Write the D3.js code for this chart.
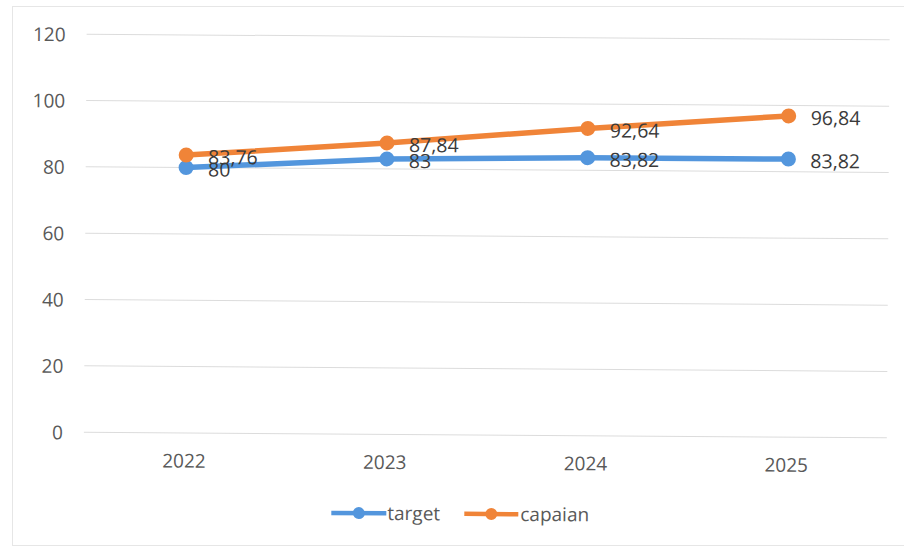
<!DOCTYPE html>
<html>
<head>
<meta charset="utf-8">
<script src="https://cdn.jsdelivr.net/npm/d3@7"></script>
<style>
  body { margin: 0; background: #ffffff; }
  svg { display: block; }
  text { font-family: "Open Sans", "Noto Sans", sans-serif; }
</style>
</head>
<body>
<div id="chart"></div>
<script>
// data
var years = ["2022", "2023", "2024", "2025"];
var targetValues = [80, 83, 83.82, 83.82];
var capaianValues = [83.76, 87.84, 92.64, 96.84];
var yTicks = [0, 20, 40, 60, 80, 100, 120];
var seriesNames = ["target", "capaian"];

var colour_target = "#5396dd",
    colour_capaian = "#f08438",
    colour_grid = "#dcdcdc",
    colour_axisText = "#595959",
    colour_label = "#3a3a3a";

var width = 904, height = 548;

var svg = d3.select("#chart").append("svg")
  .attr("width", width)
  .attr("height", height);

// frame of the chart area
svg.append("rect")
  .attr("x", 12.5).attr("y", 6.5)
  .attr("width", 900).attr("height", 539)
  .attr("fill", "#ffffff")
  .attr("stroke", "#e6e6e6");

// the scan is a little tilted
var g = svg.append("g").attr("transform", "rotate(0.4, 486, 270)");

var x = d3.scaleBand().domain(years).range([85, 888]);
var y = d3.scaleLinear().domain([0, 120]).range([435, 37]);

function xc(d) { return x(d) + x.bandwidth() / 2; }
function fmt(v) { return String(v).replace(".", ","); }

// gridlines
g.append("g").selectAll("line")
  .data(yTicks)
  .enter().append("line")
    .attr("x1", 85).attr("x2", 888)
    .attr("y1", function(d) { return y(d); })
    .attr("y2", function(d) { return y(d); })
    .attr("stroke", colour_grid)
    .attr("stroke-width", 1);

// y axis labels
var yAxis = d3.axisLeft(y).tickValues(yTicks).tickSize(0).tickPadding(0);
var gy = g.append("g").attr("transform", "translate(64,0)").call(yAxis);
gy.select(".domain").remove();
gy.selectAll("text")
  .style("font-size", "19px")
  .attr("fill", colour_axisText)
  .attr("dy", "0.35em");

// x axis labels
var xAxis = d3.axisBottom(x).tickSize(0).tickPadding(0);
var gx = g.append("g").attr("transform", "translate(0,463)").call(xAxis);
gx.select(".domain").remove();
gx.selectAll("text")
  .style("font-size", "19px")
  .attr("fill", colour_axisText)
  .attr("dy", "0.35em");

// lines + markers
var series = [
  { name: seriesNames[0], values: targetValues, colour: colour_target },
  { name: seriesNames[1], values: capaianValues, colour: colour_capaian }
];

var line = d3.line()
  .x(function(d, i) { return xc(years[i]); })
  .y(function(d) { return y(d); });

series.forEach(function(s) {
  g.append("path")
    .datum(s.values)
    .attr("d", line)
    .attr("fill", "none")
    .attr("stroke", s.colour)
    .attr("stroke-width", 5.5)
    .attr("stroke-linejoin", "round");

  g.append("g").selectAll("circle")
    .data(s.values)
    .enter().append("circle")
      .attr("cx", function(d, i) { return xc(years[i]); })
      .attr("cy", function(d) { return y(d); })
      .attr("r", 7.5)
      .attr("fill", s.colour);
});

// data labels, right of each point (they overlap like in the original)
series.forEach(function(s) {
  g.append("g").selectAll("text")
    .data(s.values)
    .enter().append("text")
      .attr("x", function(d, i) { return xc(years[i]) + 22; })
      .attr("y", function(d) { return y(d) + 2; })
      .attr("dy", "0.35em")
      .style("font-size", "19.5px")
      .attr("fill", colour_label)
      .text(function(d) { return fmt(d); });
});

// legend
var legendPos = [{ x1: 333, x2: 388, tx: 389 }, { x1: 466, x2: 520, tx: 522 }];
var legendY = 514;
series.forEach(function(s, i) {
  var lg = g.append("g");
  lg.append("line")
    .attr("x1", legendPos[i].x1).attr("x2", legendPos[i].x2)
    .attr("y1", legendY).attr("y2", legendY)
    .attr("stroke", s.colour).attr("stroke-width", 4.5);
  lg.append("circle")
    .attr("cx", (legendPos[i].x1 + legendPos[i].x2) / 2)
    .attr("cy", legendY).attr("r", 6)
    .attr("fill", s.colour);
  lg.append("text")
    .attr("x", legendPos[i].tx).attr("y", legendY)
    .attr("dy", "0.35em")
    .style("font-size", "19px")
    .attr("fill", colour_axisText)
    .text(s.name);
});
</script>
</body>
</html>
